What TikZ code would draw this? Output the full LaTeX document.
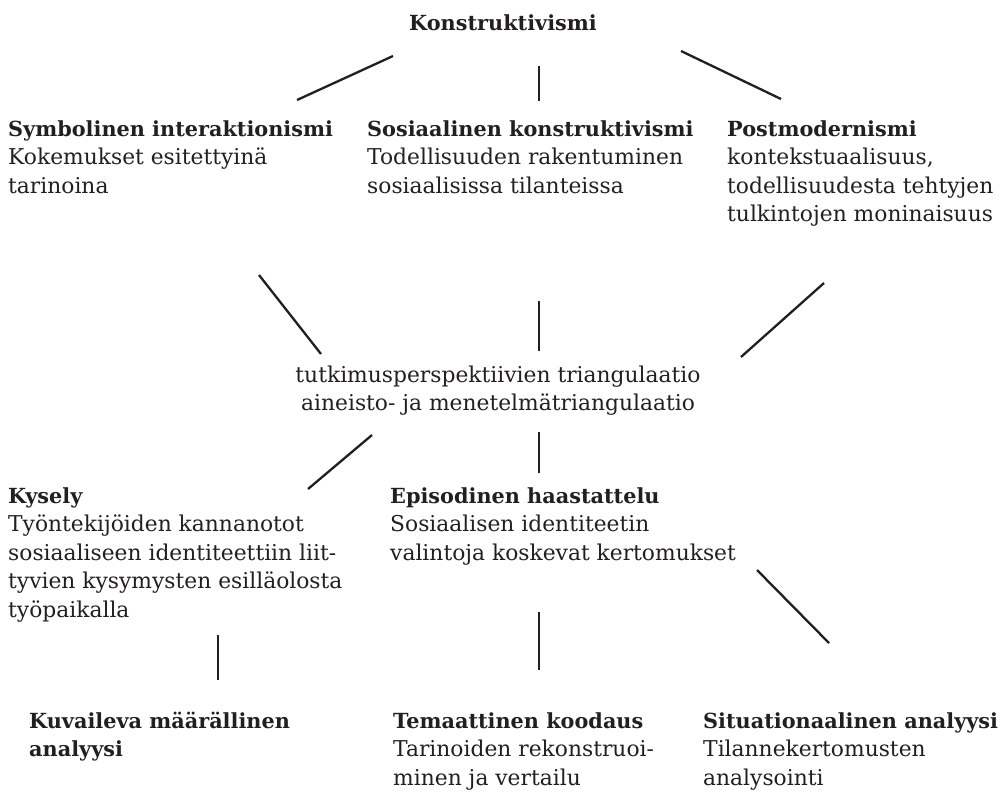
\documentclass[tikz,border=0pt]{standalone}
\usepackage{fontspec}
\setmainfont{DejaVu Serif}
\definecolor{ink}{RGB}{35,31,32}
\newcommand{\firstln}{\rule{0pt}{20pt}}
\newcommand{\hd}[1]{{\fontsize{20.8}{28.5}\selectfont\bfseries #1}}
\tikzset{
  txt/.style={anchor=north west, inner sep=0pt, align=left, text=ink,
    font=\fontsize{21.8}{28.5}\selectfont},
  ctxt/.style={anchor=north, inner sep=0pt, align=center, text=ink,
    font=\fontsize{21.8}{28.5}\selectfont},
  link/.style={draw=ink, line width=2.3pt},
}
\begin{document}
\begin{tikzpicture}[x=1pt,y=-1pt]
\useasboundingbox (0,0) rectangle (1003,793);

% texts (node top = first baseline - 20)
\node[txt, anchor=base] (konst) at (503,30) {\hd{Konstruktivismi}};
\node[txt] (symb) at (8,116) {\firstln\hd{Symbolinen interaktionismi}\\Kokemukset esitettyinä\\tarinoina};
\node[txt] (sosk) at (367,116) {\firstln\hd{Sosiaalinen konstruktivismi}\\Todellisuuden rakentuminen\\sosiaalisissa tilanteissa};
\node[txt] (post) at (727,116) {\firstln\hd{Postmodernismi}\\kontekstuaalisuus,\\todellisuudesta tehtyjen\\tulkintojen moninaisuus};
\node[ctxt] (tri) at (498,362) {\firstln tutkimusperspektiivien triangulaatio\\aineisto- ja menetelmätriangulaatio};
\node[txt] (kys) at (8,483) {\firstln\hd{Kysely}\\Työntekijöiden kannanotot\\sosiaaliseen identiteettiin liit-\\tyvien kysymysten esilläolosta\\työpaikalla};
\node[txt] (epi) at (390,483) {\firstln\hd{Episodinen haastattelu}\\Sosiaalisen identiteetin\\valintoja koskevat kertomukset};
\node[txt] (kuv) at (29,708) {\firstln\hd{Kuvaileva määrällinen}\\\hd{analyysi}};
\node[txt] (tem) at (393,708) {\firstln\hd{Temaattinen koodaus}\\Tarinoiden rekonstruoi-\\minen ja vertailu};
\node[txt] (sit) at (703,708) {\firstln\hd{Situationaalinen analyysi}\\Tilannekertomusten\\analysointi};

% connector end points
\coordinate (a1) at (393,56);  \coordinate (a2) at (297,100);
\coordinate (b1) at (539,66);  \coordinate (b2) at (539,101);
\coordinate (c1) at (681,51);  \coordinate (c2) at (781,99);
\coordinate (d1) at (259,275); \coordinate (d2) at (321,354);
\coordinate (e1) at (539,301); \coordinate (e2) at (539,351);
\coordinate (f1) at (824,283); \coordinate (f2) at (741,357);
\coordinate (g1) at (372,435); \coordinate (g2) at (308,489);
\coordinate (h1) at (539,432); \coordinate (h2) at (539,473);
\coordinate (i1) at (757,570); \coordinate (i2) at (829,643);
\coordinate (j1) at (218,635); \coordinate (j2) at (218,680);
\coordinate (k1) at (539,612); \coordinate (k2) at (539,670);

\foreach \p/\q in {a1/a2,b1/b2,c1/c2,d1/d2,e1/e2,f1/f2,g1/g2,h1/h2,i1/i2,j1/j2,k1/k2}
  \draw[link] (\p) -- (\q);
\end{tikzpicture}
\end{document}
